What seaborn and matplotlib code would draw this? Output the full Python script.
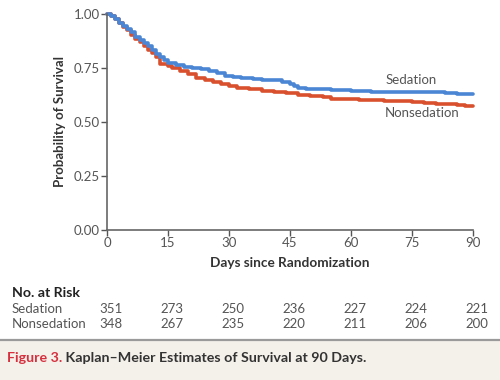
import matplotlib
matplotlib.use("Agg")
import matplotlib.pyplot as plt
import matplotlib.transforms as mtransforms
from matplotlib.patches import Rectangle
from matplotlib.lines import Line2D
import pandas as pd
import seaborn as sns

# curve readings (day, survival) for each arm
sed_days = [0, 1, 2, 3, 4, 5, 6, 7, 8, 9, 10, 11, 12, 13, 14, 15, 17, 19, 21, 23, 25, 27, 29,
            31, 33, 36, 38, 41, 43, 45, 46, 47, 49, 55, 60, 65, 75, 83, 86, 90]
sed_surv = [1.00, 0.99, 0.975, 0.96, 0.945, 0.93, 0.915, 0.895, 0.88, 0.865, 0.85, 0.835, 0.815,
            0.80, 0.785, 0.775, 0.765, 0.755, 0.75, 0.745, 0.735, 0.725, 0.715, 0.71, 0.705, 0.70,
            0.695, 0.693, 0.685, 0.675, 0.665, 0.658, 0.652, 0.648, 0.645, 0.64, 0.638, 0.635,
            0.628, 0.628]
non_days = [0, 1, 2, 3, 4, 5, 6, 7, 8, 9, 10, 11, 12, 13, 15, 16, 18, 20, 22, 24, 26, 28, 30,
            32, 35, 38, 41, 44, 47, 50, 53, 55, 60, 62, 68, 75, 78, 81, 86, 88, 90]
non_surv = [1.00, 0.99, 0.975, 0.96, 0.94, 0.925, 0.905, 0.885, 0.87, 0.85, 0.835, 0.82, 0.80,
            0.77, 0.76, 0.75, 0.735, 0.72, 0.705, 0.695, 0.685, 0.675, 0.665, 0.658, 0.652, 0.645,
            0.64, 0.632, 0.625, 0.62, 0.615, 0.608, 0.605, 0.60, 0.597, 0.592, 0.588, 0.583,
            0.578, 0.574, 0.574]

risk_days = [0, 15, 30, 45, 60, 75, 90]
risk_sed = [351, 273, 250, 236, 227, 224, 221]
risk_non = [348, 267, 235, 220, 211, 206, 200]

y_ticks = [0.0, 0.25, 0.5, 0.75, 1.0]

sns.set_theme(style="white")
plt.rcParams["font.family"] = ["Lato", "DejaVu Sans"]

df = pd.concat([
    pd.DataFrame({"day": sed_days, "surv": sed_surv, "group": "Sedation"}),
    pd.DataFrame({"day": non_days, "surv": non_surv, "group": "Nonsedation"}),
])

fig = plt.figure(figsize=(5, 3.8), dpi=100)
ax = fig.add_axes([0.214, 0.395, 0.732, 0.568])

sns.lineplot(data=df, x="day", y="surv", hue="group",
             hue_order=["Nonsedation", "Sedation"],
             palette={"Sedation": "#4a86d4", "Nonsedation": "#d9502e"},
             drawstyle="steps-post", linewidth=2.6, legend=False, ax=ax)
for ln in ax.lines:
    ln.set_clip_on(False)

ax.set_xlim(0, 90)
ax.set_ylim(0, 1)
ax.set_xticks(risk_days)
ax.set_yticks(y_ticks)
ax.set_yticklabels([f"{v:.2f}" for v in y_ticks])
ax.tick_params(colors="#555555", labelcolor="#555555", labelsize=9.5,
               length=4, width=1, direction="out", bottom=True, left=True, pad=1)
for side in ["top", "right"]:
    ax.spines[side].set_visible(False)
for side in ["left", "bottom"]:
    ax.spines[side].set_color("#666666")
    ax.spines[side].set_linewidth(1.2)

ax.set_xlabel("Days since Randomization", fontsize=9.8, fontweight="bold",
              color="#333333", labelpad=6)
ax.set_ylabel("Probability of Survival", fontsize=9.5, fontweight="bold",
              color="#333333", labelpad=6)

ax.text(74.7, 0.694, "Sedation", fontsize=9.5, color="#555555", ha="center", va="center")
ax.text(77.5, 0.54, "Nonsedation", fontsize=9.5, color="#555555", ha="center", va="center")

# number at risk table
blend = mtransforms.blended_transform_factory(ax.transData, fig.transFigure)
fig.text(0.024, 1 - 293 / 380, "No. at Risk", fontsize=10.2, fontweight="bold",
         color="#222222", va="center")
fig.text(0.024, 1 - 309 / 380, "Sedation", fontsize=9.5, color="#555555", va="center")
fig.text(0.024, 1 - 324 / 380, "Nonsedation", fontsize=9.5, color="#555555", va="center")
for d, s, n in zip(risk_days, risk_sed, risk_non):
    ax.text(d + 1, 1 - 309 / 380, str(s), transform=blend, fontsize=9.5, color="#555555",
            ha="center", va="center")
    ax.text(d + 1, 1 - 324 / 380, str(n), transform=blend, fontsize=9.5, color="#555555",
            ha="center", va="center")

# caption band
fig.patches.append(Rectangle((0, 0), 1, 1 - 341 / 380, transform=fig.transFigure,
                             facecolor="#f4f0ea", edgecolor="none", zorder=-5))
fig.lines.append(Line2D([0, 1], [1 - 339.5 / 380] * 2, transform=fig.transFigure,
                        color="#9a9a9a", linewidth=1.6))
t1 = fig.text(0.014, 1 - 358 / 380, "Figure 3.", fontsize=10.3, fontweight="bold",
              color="#d6303f", va="center")
cap = fig.text(0, 1 - 358 / 380, " Kaplan\u2013Meier Estimates of Survival at 90 Days.",
               fontsize=10.3, fontweight="bold", color="#333333", va="center")
fig.canvas.draw()
bb = t1.get_window_extent().transformed(fig.transFigure.inverted())
cap.set_position((bb.x1, 1 - 358 / 380))

fig.savefig("out.png", dpi=100)
